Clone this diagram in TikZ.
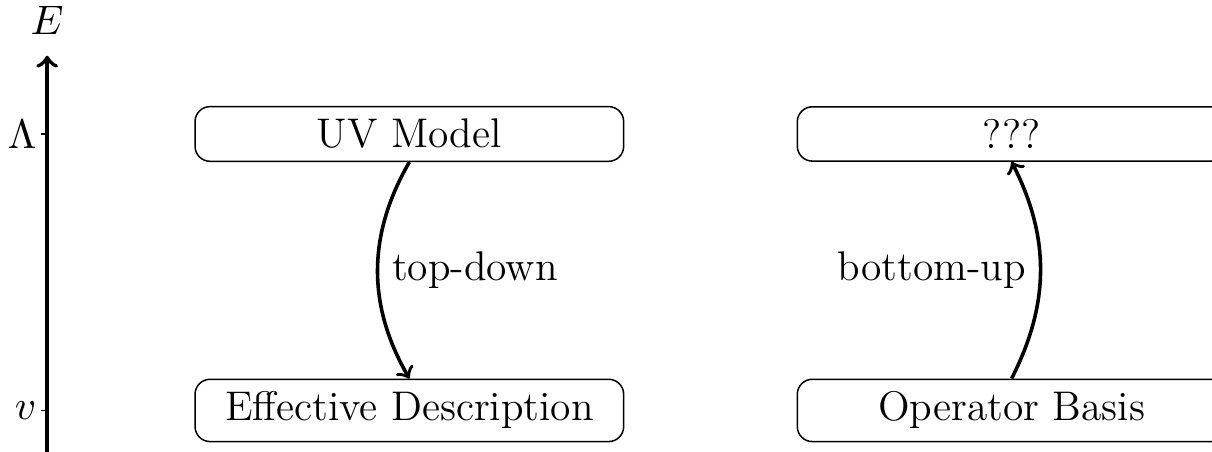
\documentclass[tikz,border=0pt]{standalone}
\usepackage{amsmath}
\usepackage{tikz}

\begin{document}
\begin{tikzpicture}[shorten >=1pt, font=\fontsize{11}{13}\selectfont]
                        \useasboundingbox (-0.44,-0.38) rectangle (10.87,3.83);
                        \tikzset{scalebox/.style={rectangle, rounded corners=4pt, draw, minimum width=4cm, minimum height=0.5cm}}

                        % Axis
                        \coordinate (bot) at (0,-0.5);
                        \coordinate (top) at (0,3.31);
                        \coordinate (lam) at (0,2.58);
                        \coordinate (vev) at (0,0);
                        \node (E) at (0,3.64) {$E$};
                        \node[anchor=east, inner sep=1.5pt] (lamlab) at (-0.04,2.58) {$\Lambda$};
                        \node[anchor=east, inner sep=1.5pt] (vevlab) at (-0.04,0) {$v$};

                        % Nodes
                        \node[scalebox] (uv) at (3.38,2.58) {UV Model};
                        \node[scalebox] (eff) at (3.38,0) {Effective Description};
                        \node[scalebox] (unk) at (9.0,2.58) {???};
                        \node[scalebox] (ops) at (9.0,0) {Operator Basis};

                        % Edges
                        \draw[->, line width=1.1pt, shorten >=0pt] (bot) -- (top);
                        \draw ([xshift=-1.5pt]lam) -- ([xshift=1.5pt]lam);
                        \draw ([xshift=-1.5pt]vev) -- ([xshift=1.5pt]vev);

                        \draw[->, line width=0.95pt, shorten >=0pt] (uv.south) to[bend right=30] node[right] {top-down} (eff.north);
                        \draw[->, line width=0.95pt, shorten >=0pt] (ops.north) to[bend right=27] node[left] {bottom-up} (unk.south);
                    \end{tikzpicture}
\end{document}
